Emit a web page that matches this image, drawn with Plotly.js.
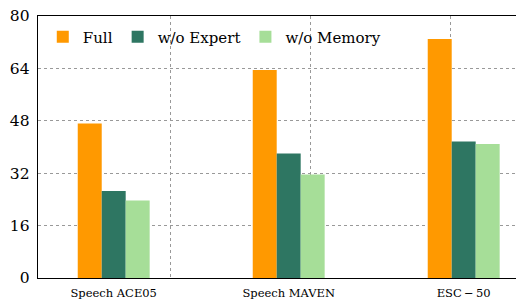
<!DOCTYPE html>
<html>
<head>
<meta charset="utf-8">
<script src="https://cdn.plot.ly/plotly-3.0.1.min.js"></script>
<style>html,body{margin:0;padding:0;background:#fff;}#chart{width:516px;height:301px;}</style>
</head>
<body>
<div id="chart"></div>
<script>
const categories = ["Speech ACE05", "Speech MAVEN", "ESC\u2009\u2212\u200950"];
const seriesNames = ["Full", "w/o Expert", "w/o Memory"];
const fullValues = [47.2, 63.5, 73.0];
const expertValues = [26.6, 38.0, 41.7];
const memoryValues = [23.7, 31.6, 40.9];
const yTicks = [0, 16, 32, 48, 64, 80];

const colors = ["#FF9900", "#2E7662", "#A6DE98"];
const xPos = categories.map((c, i) => i);
const serif = "DejaVu Serif";

const traces = [fullValues, expertValues, memoryValues].map((vals, k) => ({
  type: "bar",
  x: xPos,
  y: vals,
  name: seriesNames[k],
  marker: {color: colors[k], line: {width: 0}},
  xaxis: "x",
  yaxis: "y"
}));

traces.push({
  type: "scatter", x: [0], y: [0], xaxis: "x2", yaxis: "y",
  mode: "markers", marker: {opacity: 0}, showlegend: false, hoverinfo: "skip"
});

const xRange = [-0.4326, 2.2989];
const layout = {
  width: 516, height: 301,
  font: {family: serif, color: "#000"},
  margin: {l: 38, r: 0, t: 16, b: 23.3, pad: 0},
  paper_bgcolor: "#fff", plot_bgcolor: "#fff",
  barmode: "group", bargap: 0.589, bargroupgap: 0,
  showlegend: true,
  legend: {
    orientation: "h", x: 0.01, y: 0.983, xanchor: "left", yanchor: "top",
    font: {family: serif, size: 15, color: "#000"},
    bgcolor: "rgba(0,0,0,0)", itemwidth: 30, traceorder: "normal"
  },
  xaxis: {
    range: xRange, tickvals: xPos, ticktext: categories,
    showgrid: false, zeroline: false,
    showline: true, linecolor: "#000", linewidth: 1.4, mirror: true,
    ticks: "", tickfont: {family: serif, size: 11.5, color: "#000"},
    ticklabelstandoff: 4
  },
  xaxis2: {
    overlaying: "x", range: xRange, tickvals: [0.327, 1.127, 1.927],
    showgrid: true, gridcolor: "#999", griddash: "dot", gridwidth: 1,
    showticklabels: false, ticks: "", zeroline: false, showline: false, side: "bottom"
  },
  yaxis: {
    range: [0, 80], tickvals: yTicks,
    showgrid: true, gridcolor: "#999", griddash: "dot", gridwidth: 1,
    zeroline: false, showline: true, linecolor: "#000", linewidth: 1.4,
    ticks: "", tickfont: {family: serif, size: 15.5, color: "#000"},
    ticklabelstandoff: 4
  }
};

Plotly.newPlot("chart", traces, layout, {displayModeBar: false, staticPlot: true});
</script>
</body>
</html>
